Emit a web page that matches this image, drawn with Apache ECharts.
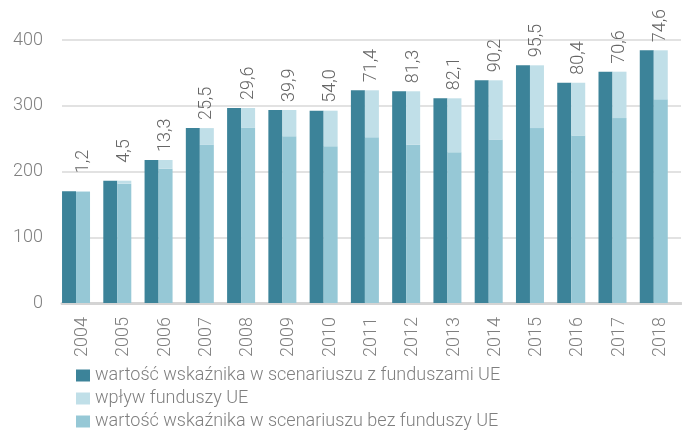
<!DOCTYPE html>
<html>
<head>
<meta charset="utf-8">
<script src="https://cdn.jsdelivr.net/npm/echarts@6/dist/echarts.min.js"></script>
<style>
  html, body { margin: 0; padding: 0; background: #fff; }
  #chart { width: 682px; height: 432px; }
</style>
</head>
<body>
<div id="chart"></div>
<script>
var years = ['2004','2005','2006','2007','2008','2009','2010','2011','2012','2013','2014','2015','2016','2017','2018'];
// wartość wskaźnika w scenariuszu z funduszami UE
var withFunds = [170, 186, 217.5, 266, 296.6, 293.5, 292.5, 323.5, 322, 311.3, 338.7, 361.5, 335, 351.8, 384.3];
// wartość wskaźnika w scenariuszu bez funduszy UE
var withoutFunds = [168.8, 181.5, 204.2, 240.5, 267.0, 253.6, 238.5, 252.1, 240.7, 229.2, 248.5, 266.0, 254.6, 281.2, 309.7];
// wpływ funduszy UE
var impact = [1.2, 4.5, 13.3, 25.5, 29.6, 39.9, 54.0, 71.4, 81.3, 82.1, 90.2, 95.5, 80.4, 70.6, 74.6];
var yTicks = [0, 100, 200, 300, 400];

var names = [
	'wartość wskaźnika w scenariuszu z funduszami UE',
	'wpływ funduszy UE',
	'wartość wskaźnika w scenariuszu bez funduszy UE'
];
var font = "'Liberation Sans Narrow', 'Arial Narrow', 'Roboto', sans-serif";
var fs = 18;

var myChart = echarts.init(document.getElementById('chart'));

function fmt(v) {
	return v.toFixed(1).replace('.', ',');
}

// short labels sit higher, as if right-aligned in a 4-character box
var impactData = [];
for (var i = 0; i < impact.length; i++) {
	var txt = fmt(impact[i]);
	impactData.push({
		value: impact[i],
		label: { distance: 8 + (4 - txt.length) * 10 }
	});
}

var option = {
	animation: false,
	textStyle: { fontFamily: font },
	grid: { left: 62, right: 1, top: 40, bottom: 129 },
	legend: {
		orient: 'vertical',
		left: 76,
		top: 366,
		bottom: -20,
		padding: 0,
		itemGap: 4,
		itemWidth: 14,
		itemHeight: 12,
		icon: 'rect',
		data: names,
		textStyle: { fontFamily: font, fontSize: fs, fontWeight: 300, color: '#7f7f7f', lineHeight: 19 }
	},
	xAxis: {
		type: 'category',
		data: years,
		axisLine: { lineStyle: { color: '#d4d4d4', width: 3 } },
		axisTick: { show: false },
		axisLabel: { rotate: 90, margin: 14, fontSize: fs, fontWeight: 300, color: '#7f7f7f', fontFamily: font }
	},
	yAxis: {
		type: 'value',
		min: yTicks[0],
		max: yTicks[yTicks.length - 1],
		interval: 100,
		axisLine: { show: false },
		axisTick: { show: false },
		axisLabel: { margin: 19, fontSize: fs, fontWeight: 300, color: '#7f7f7f', fontFamily: font },
		splitLine: { lineStyle: { color: '#d9d9d9', width: 1.5 } }
	},
	series: [
		{
			name: names[0],
			type: 'bar',
			data: withFunds,
			barWidth: 14,
			barGap: 0,
			itemStyle: { color: '#3c8399' }
		},
		{
			name: names[2],
			type: 'bar',
			stack: 'bez',
			data: withoutFunds,
			barWidth: 14,
			barGap: 0,
			itemStyle: { color: '#96c8d6' }
		},
		{
			name: names[1],
			type: 'bar',
			stack: 'bez',
			data: impactData,
			barWidth: 14,
			barGap: 0,
			itemStyle: { color: '#c0dfe8' },
			label: {
				show: true,
				position: 'top',
				rotate: 90,
				align: 'left',
				verticalAlign: 'middle',
				fontSize: fs,
				fontWeight: 300,
				color: '#666666',
				fontFamily: font,
				formatter: function (p) { return fmt(p.value); }
			}
		},
		{
			name: 'spacer',
			type: 'bar',
			data: years.map(function () { return 0; }),
			barWidth: 13.2,
			barGap: 0,
			itemStyle: { color: 'rgba(0,0,0,0)' },
			silent: true
		}
	]
};

myChart.setOption(option);
</script>
</body>
</html>
